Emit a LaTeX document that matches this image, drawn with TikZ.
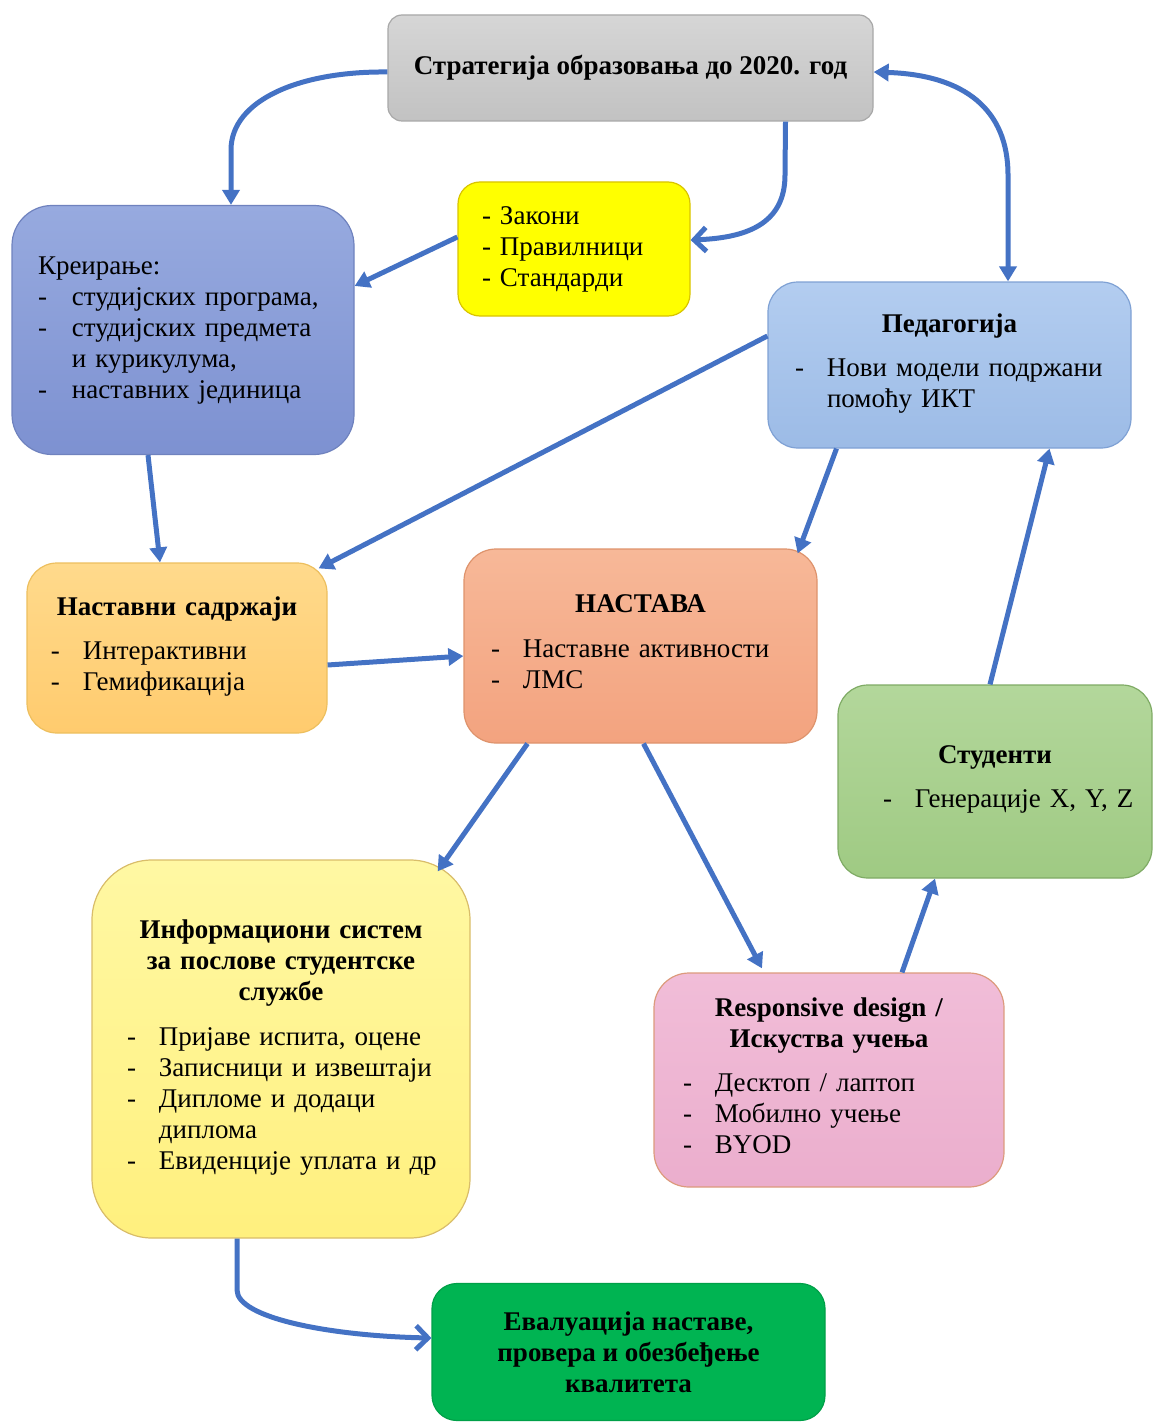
\documentclass[tikz,border=0pt]{standalone}
\usepackage{fontspec}
\setmainfont{Liberation Serif}
\usetikzlibrary{arrows.meta,calc}

\definecolor{arrowblue}{HTML}{4472C4}
\definecolor{grayA}{HTML}{D6D6D6}\definecolor{grayB}{HTML}{C2C2C2}\definecolor{grayE}{HTML}{A8A8A8}
\definecolor{purA}{HTML}{97AADF}\definecolor{purB}{HTML}{7D91D1}\definecolor{purE}{HTML}{6F82BE}
\definecolor{yelA}{HTML}{FFFF00}\definecolor{yelE}{HTML}{D9C400}
\definecolor{pedA}{HTML}{B3CDF0}\definecolor{pedB}{HTML}{9CBBE6}\definecolor{pedE}{HTML}{7FA1D4}
\definecolor{oraA}{HTML}{FFDA8C}\definecolor{oraB}{HTML}{FFCB6E}\definecolor{oraE}{HTML}{EDBF5E}
\definecolor{salA}{HTML}{F7B898}\definecolor{salB}{HTML}{F3A37F}\definecolor{salE}{HTML}{DE936C}
\definecolor{grnA}{HTML}{B3D79B}\definecolor{grnB}{HTML}{9FCA83}\definecolor{grnE}{HTML}{7FAB65}
\definecolor{ltyA}{HTML}{FFF8A3}\definecolor{ltyB}{HTML}{FFF07E}\definecolor{ltyE}{HTML}{D9BD6A}
\definecolor{pnkA}{HTML}{F1BDD8}\definecolor{pnkB}{HTML}{EBAECD}\definecolor{pnkE}{HTML}{DC9A7C}
\definecolor{evA}{HTML}{00B452}\definecolor{evE}{HTML}{00A048}

% a bullet list set at a fixed indent from the left edge of its box
\newcommand\indentlist[2]{\hspace*{#1pt}#2\hspace{0pt plus 1filll}\null}
\newenvironment{dashlist}{\begin{tabular}[t]{@{}l@{\hspace{23pt}}l@{}}}{\end{tabular}}

\tikzset{
  box/.style={draw, line width=1.2pt, align=center, inner sep=0pt,
    font=\fontsize{27}{31}\selectfont},
  arr/.style={draw=arrowblue, line width=5pt,
    -{Triangle[length=15pt,width=17pt]}},
  arrboth/.style={draw=arrowblue, line width=5pt,
    {Triangle[length=15pt,width=17pt]}-{Triangle[length=15pt,width=17pt]}},
  arrbarb/.style={draw=arrowblue, line width=5pt,
    -{Straight Barb[length=12pt,width=24pt,line width=5pt]}},
}

\begin{document}
\begin{tikzpicture}[x=1pt,y=-1pt]
\useasboundingbox (0,0) rectangle (1154,1423);

% --- boxes ---
\node[box, draw=grayE, top color=grayA, bottom color=grayB, rounded corners=14pt,
      minimum width=485pt, minimum height=106pt] (strat) at (630.5,68)
  {\textbf{Стратегија образовања до 2020. год}};

\node[box, draw=purE, top color=purA, bottom color=purB, rounded corners=40pt,
      text width=342pt, minimum height=249pt] (kre) at (183,330)
  {\indentlist{26}{\begin{tabular}[t]{@{}l@{\hspace{25pt}}l@{}}
    \multicolumn{2}{@{}l@{}}{Креирање:}\\
    - & студијских програма,\\
    - & студијских предмета\\
      & и курикулума,\\
    - & наставних јединица
   \end{tabular}}};

\node[box, draw=yelE, fill=yelA, rounded corners=22pt,
      text width=232pt, minimum height=134pt] (zak) at (574,249)
  {\indentlist{24}{\begin{tabular}[t]{@{}l@{}}
    - Закони\\
    - Правилници\\
    - Стандарди
   \end{tabular}}};

\node[box, draw=pedE, top color=pedA, bottom color=pedB, rounded corners=30pt,
      text width=363pt, minimum height=166pt] (ped) at (949.5,365)
  {\textbf{Педагогија}\\[13pt]
   \indentlist{27}{\begin{dashlist}
    - & Нови модели подржани\\
      & помоћу ИКТ
   \end{dashlist}}};

\node[box, draw=oraE, top color=oraA, bottom color=oraB, rounded corners=30pt,
      text width=300pt, minimum height=170pt] (nsad) at (177,648)
  {\textbf{Наставни садржаји}\\[13pt]
   \indentlist{24}{\begin{dashlist}
    - & Интерактивни\\
    - & Гемификација
   \end{dashlist}}};

\node[box, draw=salE, top color=salA, bottom color=salB, rounded corners=32pt,
      text width=353pt, minimum height=194pt] (nast) at (640.5,646)
  {\textbf{НАСТАВА}\\[14pt]
   \indentlist{27}{\begin{dashlist}
    - & Наставне активности\\
    - & ЛМС
   \end{dashlist}}};

\node[box, draw=grnE, top color=grnA, bottom color=grnB, rounded corners=30pt,
      text width=314pt, minimum height=193pt] (stud) at (995,781.5)
  {\textbf{Студенти}\\[13pt]
   \indentlist{45}{\begin{dashlist}
    - & Генерације X, Y, Z
   \end{dashlist}}};

\node[box, draw=ltyE, top color=ltyA, bottom color=ltyB, rounded corners=60pt,
      text width=378pt, minimum height=378pt] (info) at (281,1049)
  {\textbf{Информациони систем}\\
   \textbf{за послове студентске}\\
   \textbf{службе}\\[14pt]
   \indentlist{35}{\begin{dashlist}
    - & Пријаве испита, оцене\\
    - & Записници и извештаји\\
    - & Дипломе и додаци\\
      & диплома\\
    - & Евиденције уплата и др
   \end{dashlist}}};

\node[box, draw=pnkE, top color=pnkA, bottom color=pnkB, rounded corners=35pt,
      text width=350pt, minimum height=214pt] (resp) at (829,1080)
  {\textbf{Responsive design /}\\
   \textbf{Искуства учења}\\[13pt]
   \indentlist{29}{\begin{dashlist}
    - & Десктоп / лаптоп\\
    - & Мобилно учење\\
    - & BYOD
   \end{dashlist}}};

\node[box, draw=evE, fill=evA, rounded corners=25pt,
      minimum width=393pt, minimum height=137pt] (eval) at (628.5,1352)
  {\textbf{Евалуација наставе,}\\
   \textbf{провера и обезбеђење}\\
   \textbf{квалитета}};

% --- connectors ---
\draw[arr] ($(strat.west)+(0,4)$) .. controls (300,71) and (231,100) .. (231,150)
  -- ($(kre.north)+(48,0)$);
\draw[arrbarb] ($(strat.south)+(155,0)$) -- (785,175)
  .. controls (785,225) and (745,238) .. ($(zak.east)+(0,-9)$);
\draw[arrboth] ($(strat.east)+(0,4)$) .. controls (965,75) and (1008,110) .. (1008,175)
  -- ($(ped.north)+(58.5,0)$);
\draw[arr] ($(zak.west)+(0,-12)$) -- ($(kre.east)+(0,-44)$);
\draw[arr] ($(kre.south)+(-35,0)$) -- ($(nsad.north)+(-17,0)$);
\draw[arr] ($(ped.west)+(0,-29)$) -- ($(nsad.north east)+(-9,6)$);
\draw[arr] ($(ped.south)+(-113,0)$) -- ($(nast.north east)+(-20,5)$);
\draw[arr] ($(nsad.east)+(0,17)$) -- ($(nast.west)+(0,10)$);
\draw[arr] ($(nast.south)+(-113,0)$) -- ($(info.north east)+(-33,12)$);
\draw[arr] ($(nast.south)+(3,0)$) -- ($(resp.north)+(-67,-4)$);
\draw[arr] ($(resp.north)+(73,0)$) -- ($(stud.south)+(-60,0)$);
\draw[arr] ($(stud.north)+(-5,0)$) -- ($(ped.south)+(100,0)$);
\draw[arrbarb] ($(info.south)+(-44,0)$) -- (237,1290)
  .. controls (237,1318) and (330,1336) .. ($(eval.west)+(0,-14)$);
\end{tikzpicture}
\end{document}
